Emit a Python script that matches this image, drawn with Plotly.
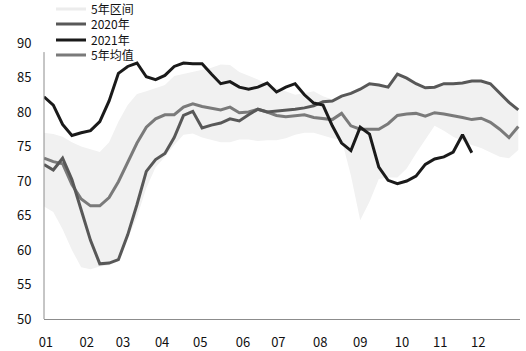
import plotly.graph_objects as go

weeks = list(range(52))

band_upper = [77.0, 76.8, 76.4, 75.6, 75.0, 74.6, 74.2, 75.6, 78.6, 81.0,
              82.6, 83.0, 83.4, 83.9, 85.2, 85.5, 85.8, 86.0, 86.4, 86.9,
              86.8, 85.8, 85.3, 84.7, 84.0, 83.5, 83.1, 82.5, 82.7, 83.0,
              82.3, 81.8, 82.3, 82.7, 83.3, 84.1, 83.9, 83.6, 85.5, 84.9,
              84.1, 83.5, 83.6, 84.1, 84.1, 84.2, 84.5, 84.5, 84.1, 82.7,
              81.4, 80.3]
band_lower = [66.3, 65.5, 63.0, 60.0, 57.5, 57.2, 57.6, 57.8, 58.4, 61.5,
              64.8, 69.0, 72.0, 73.5, 75.2, 76.7, 76.9, 76.3, 76.0, 75.6,
              75.6, 76.0, 76.0, 75.8, 75.9, 75.9, 76.2, 76.7, 77.0, 77.0,
              76.6, 76.2, 76.0, 70.8, 64.3, 67.0, 70.3, 70.5, 70.5, 71.8,
              74.0, 76.0, 78.0, 77.3, 76.4, 75.8, 75.2, 74.8, 74.2, 73.5,
              73.3, 74.5]
y2020 = [72.4, 71.6, 73.3, 70.2, 65.8, 61.4, 58.0, 58.1, 58.6, 62.2,
         66.6, 71.4, 73.1, 74.0, 76.3, 79.5, 80.1, 77.7, 78.1, 78.4,
         79.0, 78.7, 79.6, 80.4, 80.0, 80.1, 80.3, 80.4, 80.6, 80.9,
         81.5, 81.6, 82.3, 82.7, 83.3, 84.1, 83.9, 83.6, 85.5, 84.9,
         84.1, 83.5, 83.6, 84.1, 84.1, 84.2, 84.5, 84.5, 84.1, 82.7,
         81.4, 80.3]
y2021 = [82.2, 81.0, 78.2, 76.6, 77.0, 77.3, 78.6, 81.6, 85.6, 86.6,
         87.1, 85.1, 84.7, 85.3, 86.6, 87.1, 87.0, 87.0, 85.5, 84.1,
         84.4, 83.6, 83.3, 83.6, 84.2, 82.9, 83.6, 84.1, 82.5, 81.3,
         81.0, 78.0, 75.5, 74.4, 77.8, 76.8, 72.0, 70.1, 69.6, 70.0,
         70.7, 72.4, 73.2, 73.5, 74.2, 76.7, 74.1]
avg5 = [73.3, 72.8, 72.5, 69.5, 67.4, 66.4, 66.4, 67.6, 69.9, 72.6,
        75.5, 77.8, 79.0, 79.6, 79.6, 80.7, 81.2, 80.8, 80.5, 80.3,
        80.7, 79.9, 80.0, 80.4, 80.0, 79.5, 79.3, 79.5, 79.6, 79.2,
        79.0, 78.9, 79.8, 78.0, 77.5, 77.5, 77.5, 78.3, 79.5, 79.7,
        79.8, 79.4, 79.9, 79.7, 79.5, 79.2, 78.9, 79.1, 78.5, 77.5,
        76.3, 77.9]

month_labels = ["01", "02", "03", "04", "05", "06", "07", "08", "09", "10", "11", "12"]
month_pos = [0.2, 4.6, 8.5, 12.7, 16.8, 21.4, 25.2, 29.7, 34.0, 38.5, 42.6, 46.7]
y_ticks = [50, 55, 60, 65, 70, 75, 80, 85, 90]

FONT = "Noto Sans CJK SC, Noto Sans, sans-serif"

fig = go.Figure()

# 5-year band
fig.add_trace(go.Scatter(x=weeks, y=band_lower, mode="lines",
                         line=dict(width=0, color="#f0f0f0"),
                         showlegend=False, hoverinfo="skip"))
fig.add_trace(go.Scatter(x=weeks, y=band_upper, mode="lines",
                         line=dict(width=0, color="#f0f0f0"),
                         fill="tonexty", fillcolor="#f1f1f1",
                         showlegend=False, hoverinfo="skip"))
# legend entry for band
fig.add_trace(go.Scatter(x=[None], y=[None], mode="lines", name="5年区间",
                         line=dict(width=3, color="#ececec"), legend="legend"))

fig.add_trace(go.Scatter(x=weeks, y=avg5, mode="lines", name="5年均值",
                         line=dict(width=3, color="#7a7a7a"), legend="legend4"))
fig.add_trace(go.Scatter(x=weeks, y=y2020, mode="lines", name="2020年",
                         line=dict(width=3, color="#585858"), legend="legend2"))
fig.add_trace(go.Scatter(x=weeks[:len(y2021)], y=y2021, mode="lines", name="2021年",
                         line=dict(width=3, color="#1a1a1a"), legend="legend3"))

H0, H1 = 43, 319
def py(px):
    return (H1 - px) / (H1 - H0)

lx = (51 - 44) / 476
leg_common = dict(x=lx, xanchor="left", yanchor="middle",
                  bgcolor="rgba(0,0,0,0)", font=dict(family=FONT, size=12, color="#111"),
                  borderwidth=0)

fig.update_layout(
    width=526, height=351,
    margin=dict(l=44, r=6, t=43, b=32, autoexpand=False),
    paper_bgcolor="white", plot_bgcolor="white",
    font=dict(family=FONT, size=13, color="#111"),
    legend=dict(y=py(9), **leg_common),
    legend2=dict(y=py(24), **leg_common),
    legend3=dict(y=py(40), **leg_common),
    legend4=dict(y=py(55), **leg_common),
    xaxis=dict(range=[0, 476 / 9.3], tickvals=month_pos, ticktext=month_labels,
               showgrid=False, zeroline=False, showline=True, linecolor="#8c8c8c",
               linewidth=1, ticks="outside", ticklen=11, tickcolor="rgba(0,0,0,0)",
               tickfont=dict(family=FONT, size=13, color="#111"), automargin=False),
    yaxis=dict(range=[50, 90], tickvals=y_ticks, showgrid=False, zeroline=False,
               showline=False, ticks="outside", ticklen=9, tickcolor="rgba(0,0,0,0)",
               tickfont=dict(family=FONT, size=13, color="#111"), automargin=False),
    shapes=[dict(type="line", xref="paper", yref="paper", x0=0, x1=0, y0=0, y1=0.967,
                 line=dict(color="#8c8c8c", width=1))],
    showlegend=True,
)

fig.write_html("out.html")
